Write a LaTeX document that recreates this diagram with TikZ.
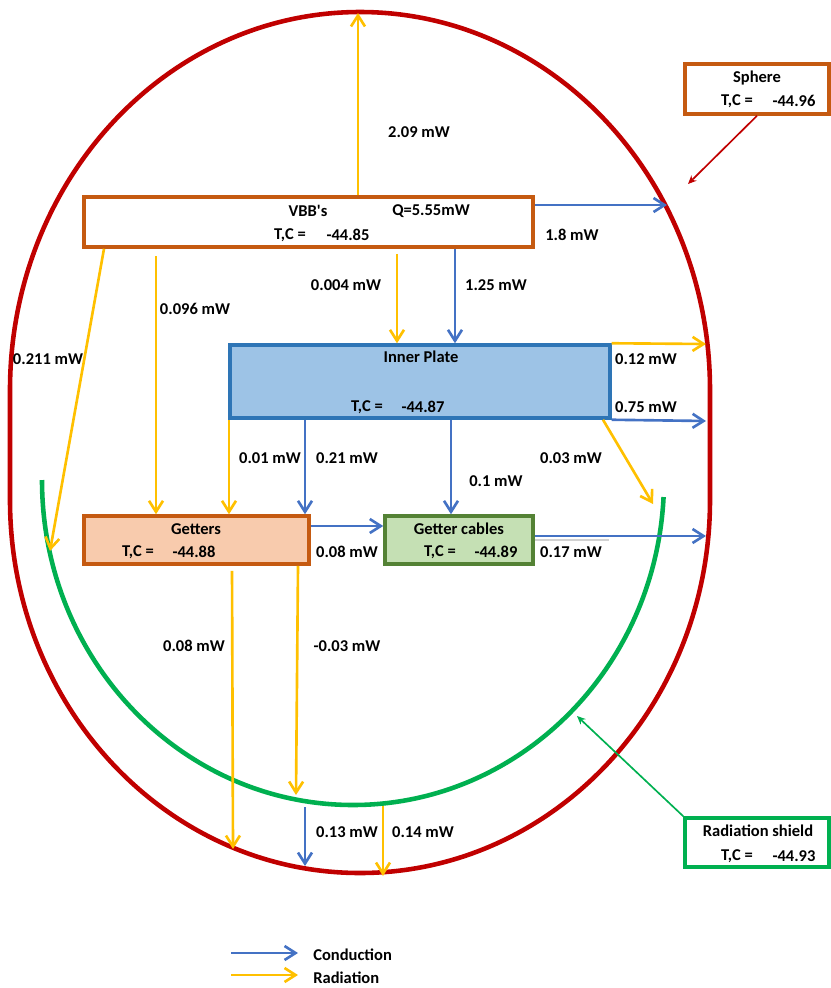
\documentclass[tikz,border=0pt]{standalone}
\usepackage{fontspec}
\setmainfont{Carlito}
\usetikzlibrary{arrows.meta,positioning,calc}
\definecolor{sphred}{RGB}{192,0,0}
\definecolor{shieldgreen}{RGB}{0,176,80}
\definecolor{condblue}{RGB}{68,114,196}
\definecolor{radyellow}{RGB}{255,192,0}
\definecolor{boxorange}{RGB}{197,90,17}
\definecolor{plateblue}{RGB}{46,117,182}
\definecolor{platefill}{RGB}{157,195,230}
\definecolor{getterfill}{RGB}{248,203,173}
\definecolor{cablegreen}{RGB}{84,130,53}
\definecolor{cablefill}{RGB}{197,224,180}

\begin{document}
\begin{tikzpicture}[
        x=0.02cm, y=-0.02cm,
        every node/.style={font=\fontsize{9.4}{11}\selectfont\bfseries, inner sep=0pt},
        box/.style={rectangle, line width=2pt},
        cond/.style={-{Straight Barb[length=2.2mm,width=2.8mm]}, condblue, line width=1.5pt},
        rad/.style={-{Straight Barb[length=2.2mm,width=2.8mm]}, radyellow, line width=1.5pt},
        pointer/.style={-{Stealth[length=1.7mm,width=1.5mm]}, line width=0.95pt}
    ]
        \useasboundingbox (0,0) rectangle (831,988);

        % Sphere and radiation shield outlines
        \draw[sphred, line width=2.6pt] (10,390) arc[start angle=180, end angle=360, x radius=350, y radius=378]
            -- (710,500) arc[start angle=0, end angle=180, x radius=350, y radius=373] -- cycle;
        \draw[shieldgreen, line width=2.6pt] (42,480) arc[start angle=180, end angle=3, x radius=311, y radius=325];

        % Boxes
        \node[box, draw=boxorange, fill=white, minimum width=8.98cm, minimum height=1.0cm] (vbb) at (308.5,222) {};
        \node[box, draw=boxorange, fill=white, minimum width=2.88cm, minimum height=1.0cm] (sphere) at (757,89) {};
        \node[box, draw=plateblue, fill=platefill, minimum width=7.6cm, minimum height=1.46cm] (plate) at (420,381.5) {};
        \node[box, draw=boxorange, fill=getterfill, minimum width=4.5cm, minimum height=0.96cm] (getters) at (196.5,540) {};
        \node[box, draw=cablegreen, fill=cablefill, minimum width=2.96cm, minimum height=0.96cm] (cables) at (459,540) {};
        \node[box, draw=shieldgreen, fill=white, minimum width=2.88cm, minimum height=0.98cm] (shield) at (757,842.5) {};

        % Box texts
        \node (vbbname) at (308,211) {VBB\textquotesingle s};
        \node (vbbq) at (431,211) {Q=5.55mW};
        \node (vbbtc) at (290,235) {T,C =};
        \node (vbbt) at (348,235) {-44.85};
        \node (sphname) at (757,78) {Sphere};
        \node (sphtc) at (737,101) {T,C =};
        \node (spht) at (794,101) {-44.96};
        \node (platename) at (421,357) {Inner Plate};
        \node (platetc) at (367,407) {T,C =};
        \node (platet) at (423,407) {-44.87};
        \node (gettname) at (196,529) {Getters};
        \node (gettc) at (138,552) {T,C =};
        \node (gett) at (194,552) {-44.88};
        \node (cabname) at (459,529) {Getter cables};
        \node (cabtc) at (440,552) {T,C =};
        \node (cabt) at (496,552) {-44.89};
        \node (shname) at (758,831) {Radiation shield};
        \node (shtc) at (737,856) {T,C =};
        \node (sht) at (794,856) {-44.93};

        % Free ends on sphere and shield
        \coordinate (sphtop) at (358,13);
        \coordinate (sphright) at (667,205);
        \coordinate (sphleft) at (50,551);
        \coordinate (platehi) at (706,344);
        \coordinate (platelo) at (706,421);
        \coordinate (shieldtop) at (653,504);
        \coordinate (cabout) at (706,536);
        \coordinate (sphbotA) at (233,849);
        \coordinate (shieldbot) at (296,795);
        \coordinate (shieldlowA) at (305,807);
        \coordinate (sphbotB) at (305,866);
        \coordinate (shieldlowB) at (383,806);
        \coordinate (sphbotC) at (383,876);
        \coordinate (sphpoint) at (688,184);
        \coordinate (shieldpoint) at (577,716);

        % VBB's
        \draw[rad] (vbb.north -| 358,0) -- (sphtop);
        \draw[cond] (vbb.east |- 0,205) -- (sphright);
        \draw[rad, shorten <=1mm] (vbb.south -| 397,0) -- (plate.north -| 397,0);
        \draw[cond] (vbb.south -| 455,0) -- (plate.north -| 455,0);
        \draw[rad, shorten <=1.5mm] (vbb.south -| 156,0) -- (getters.north -| 156,0);
        \draw[rad] (vbb.south -| 104,0) -- (sphleft);

        % Inner plate
        \draw[rad] (plate.north east) -- (platehi);
        \draw[cond] (plate.south east) -- (platelo);
        \draw[rad] (plate.south -| 229,0) -- (getters.north -| 229,0);
        \draw[cond] (plate.south -| 305,0) -- (getters.north -| 305,0);
        \draw[cond] (plate.south -| 451,0) -- (cables.north -| 451,0);
        \draw[rad] (plate.south -| 603,0) -- (shieldtop);

        % Getters and cables
        \draw[cond] (getters.east |- 0,526) -- (cables.west |- 0,526);
        \draw[cond] (cables.east |- 0,536) -- (cabout);
        \draw[gray!35, line width=0.8pt] (cables.east |- 0,540) -- (609,540);
        \draw[rad, shorten <=1mm] (getters.south -| 232,0) -- (sphbotA);
        \draw[rad] (getters.south -| 298,0) -- (shieldbot);

        % Shield to sphere
        \draw[cond] (shieldlowA) -- (sphbotB);
        \draw[rad] (shieldlowB) -- (sphbotC);

        % Pointers to outlines
        \draw[pointer, sphred] (sphere.south) -- (sphpoint);
        \draw[pointer, shieldgreen] (shield.north west) -- (shieldpoint);

        % Labels
        \node (l209) at (419,132) {2.09 mW};
        \node (l18) at (572,235) {1.8 mW};
        \node (l0004) at (346,285) {0.004 mW};
        \node (l125) at (496,285) {1.25 mW};
        \node (l0096) at (195,309) {0.096 mW};
        \node (l0211) at (48,359) {0.211 mW};
        \node (l012) at (646,359) {0.12 mW};
        \node (l075) at (646,407) {0.75 mW};
        \node (l001) at (270,458) {0.01 mW};
        \node (l021) at (347,458) {0.21 mW};
        \node (l003) at (571,458) {0.03 mW};
        \node (l01) at (496,481) {0.1 mW};
        \node (l008a) at (347,552) {0.08 mW};
        \node (l017) at (571,552) {0.17 mW};
        \node (l008b) at (194,646) {0.08 mW};
        \node (lm003) at (347,646) {-0.03 mW};
        \node (l013) at (347,832) {0.13 mW};
        \node (l014) at (423,832) {0.14 mW};

        % Legend
        \coordinate (condstart) at (231,953);
        \coordinate (condend) at (298,953);
        \coordinate (radstart) at (231,975);
        \coordinate (radend) at (298,975);
        \draw[cond] (condstart) -- (condend);
        \draw[rad] (radstart) -- (radend);
        \node[anchor=west] (legcond) at (313,955) {Conduction};
        \node[anchor=west] (legrad) at (313,978) {Radiation};

    \end{tikzpicture}
\end{document}
